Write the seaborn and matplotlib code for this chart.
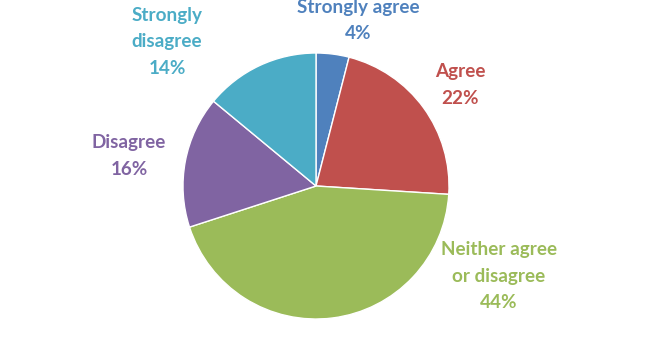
import matplotlib
matplotlib.use("Agg")
import matplotlib.pyplot as plt
import seaborn as sns

# survey answers, clockwise from 12 o'clock
categories = ["Strongly agree", "Agree", "Neither agree\nor disagree", "Disagree", "Strongly\ndisagree"]
shares = [4, 22, 44, 16, 14]
colors = ["#4F81BD", "#C0504D", "#9BBB59", "#8064A2", "#4BACC6"]

# label anchor points (data units, pie radius = 1)
label_xy = [(0.316, 1.245), (1.083, 0.76), (1.376, -0.677), (-1.406, 0.226), (-1.12, 1.083)]

sns.set_theme(style="white")
plt.rcParams["font.family"] = ["Lato", "DejaVu Sans"]

W, H = 658, 351
cx, cy, r = 316, 186, 133

fig = plt.figure(figsize=(W / 100, H / 100), dpi=100)
ax = fig.add_axes([0, 0, 1, 1])
ax.pie(shares, colors=colors, startangle=90, counterclock=False, radius=1,
       wedgeprops={"edgecolor": "white", "linewidth": 1})
ax.set_xlim(-cx / r, (W - cx) / r)
ax.set_ylim(-(H - cy) / r, cy / r)
ax.set_aspect("auto")
ax.axis("off")

for name, val, col, (x, y) in zip(categories, shares, colors, label_xy):
    ax.text(x, y, f"{name}\n{val}%", ha="center", va="center", color=col,
            fontsize=13.6, fontweight="bold", linespacing=1.68)

fig.savefig("out.png", dpi=100)
